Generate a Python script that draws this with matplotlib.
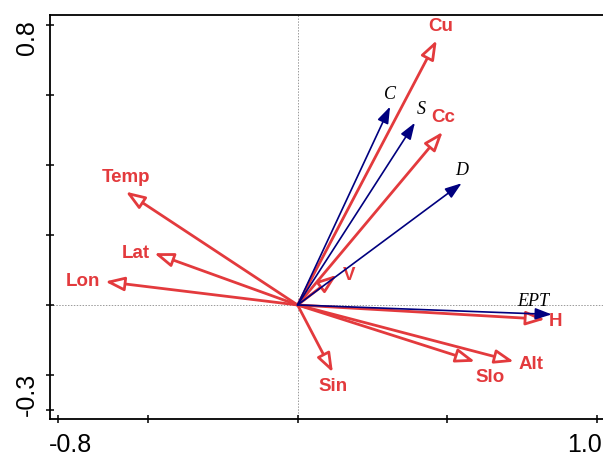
import matplotlib
matplotlib.use("Agg")
import matplotlib.pyplot as plt
import matplotlib.transforms as mtransforms

# environmental variables (red, open heads)
env_names = ["Cu", "Cc", "Temp", "Lat", "Lon", "V", "H", "Slo", "Alt", "Sin"]
env_x = [0.465, 0.485, -0.574, -0.479, -0.643, 0.131, 0.827, 0.593, 0.723, 0.118]
env_y = [0.757, 0.495, 0.324, 0.148, 0.067, 0.086, -0.041, -0.162, -0.162, -0.193]

# response variables (blue, filled heads)
resp_names = ["C", "S", "D", "EPT"]
resp_x = [0.309, 0.392, 0.548, 0.849]
resp_y = [0.567, 0.521, 0.348, -0.027]

xticks = [-0.8, -0.5, 0.0, 0.5, 1.0]
yticks = [-0.3, -0.2, 0.0, 0.2, 0.4, 0.6, 0.8]
xtick_labels = {-0.8: "-0.8", 1.0: "1.0"}
ytick_labels = {0.8: "0.8", -0.3: "-0.3"}

# label offsets from arrow tip, in pixels
env_off = {"Cu": (4, 14), "Cc": (0, 14), "Temp": (0, 14), "Lat": (-18, 0),
           "Lon": (-22, 0), "V": (12, -1), "H": (10, -2), "Slo": (15, -16),
           "Alt": (17, -3), "Sin": (0, -14)}
resp_off = {"C": (0, 12), "S": (6, 13), "D": (0, 13), "EPT": (-19, 13)}

red = "#e33a3d"
navy = "#00007f"

fig = plt.figure(figsize=(6.03, 4.58), dpi=100)
ax = fig.add_axes([50/603, 39/458, 558/603, 404/458])
ax.set_xlim(-0.827, 1.037)
ax.set_ylim(-0.326, 0.829)

ax.axhline(0, color="#9a9a9a", lw=0.7, ls=(0, (1.5, 1.5)), zorder=0)
ax.axvline(0, color="#9a9a9a", lw=0.7, ls=(0, (1.5, 1.5)), zorder=0)

for n, x, y in zip(env_names, env_x, env_y):
    ax.annotate("", xy=(x, y), xytext=(0, 0),
                arrowprops=dict(arrowstyle="-|>,head_length=1.15,head_width=0.42",
                                mutation_scale=10, color=red, fc="white",
                                lw=2.0, shrinkA=0, shrinkB=0))
    ax.annotate(n, xy=(x, y), xytext=env_off[n], textcoords="offset pixels",
                ha="center", va="center", color=red, fontsize=13.5,
                fontweight="bold", family="Liberation Sans")

for n, x, y in zip(resp_names, resp_x, resp_y):
    ax.annotate("", xy=(x, y), xytext=(0, 0),
                arrowprops=dict(arrowstyle="-|>,head_length=1.0,head_width=0.35",
                                mutation_scale=10, color=navy,
                                lw=1.2, shrinkA=0, shrinkB=0))
    ax.annotate(n, xy=(x, y), xytext=resp_off[n], textcoords="offset pixels",
                ha="center", va="center", color="black", fontsize=13,
                style="italic", family="Liberation Serif")

ax.set_xticks(xticks)
ax.set_yticks(yticks)
ax.set_xticklabels([])
ax.set_yticklabels([])
ax.tick_params(direction="inout", length=6, width=1.1, color="black")
for s in ax.spines.values():
    s.set_linewidth(1.3)

tx = mtransforms.blended_transform_factory(ax.transData, ax.transAxes)
ty = mtransforms.blended_transform_factory(ax.transAxes, ax.transData)
xoff = {-0.8: (12, -26), 1.0: (-12, -26)}
yoff = {0.8: (-23, -12), -0.3: (-23, 16)}
for v, s in xtick_labels.items():
    ax.annotate(s, xy=(v, 0), xycoords=tx, xytext=xoff[v], textcoords="offset pixels",
                ha="center", va="center", fontsize=18, family="Liberation Sans",
                annotation_clip=False)
for v, s in ytick_labels.items():
    ax.annotate(s, xy=(0, v), xycoords=ty, xytext=yoff[v], textcoords="offset pixels",
                ha="center", va="center", fontsize=18, family="Liberation Sans",
                rotation=90, annotation_clip=False)

plt.savefig("out.png", dpi=100)
